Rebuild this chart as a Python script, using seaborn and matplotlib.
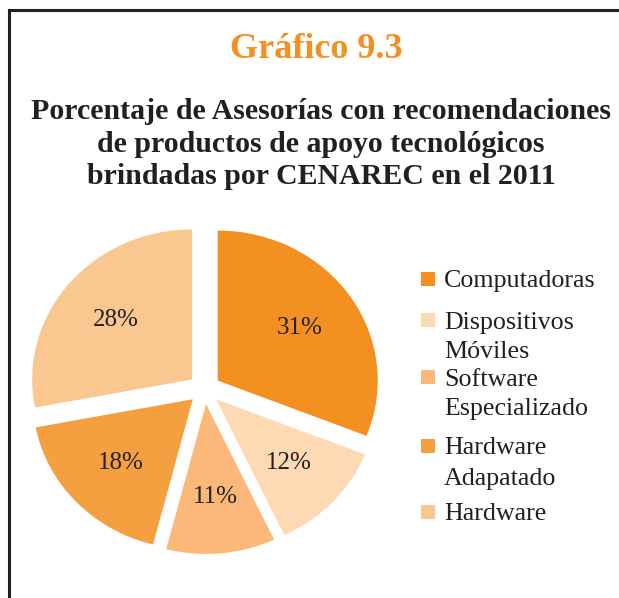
import matplotlib
matplotlib.use("Agg")
import matplotlib.pyplot as plt
import seaborn as sns
from matplotlib.lines import Line2D
from matplotlib.patches import Rectangle

# data
categorias = ["Computadoras", "Dispositivos\nMóviles", "Software\nEspecializado",
              "Hardware\nAdapatado", "Hardware"]
porcentajes = [31, 12, 11, 18, 28]
colores = ["#F39020", "#FDD9B4", "#FBB878", "#F5A040", "#FAC791"]

titulo = "Gráfico 9.3"
subtitulo = ("Porcentaje de Asesorías con recomendaciones\n"
             "de productos de apoyo tecnológicos\n"
             "brindadas por CENAREC en el 2011")

sns.set_style("white")
plt.rcParams['font.family'] = ['Liberation Serif', 'DejaVu Serif']
texto = "#231F20"
W, H = 619, 598

fig = plt.figure(figsize=(6.19, 5.98), dpi=100)
fig.patch.set_facecolor("white")

# frame (only top and left edges are visible)
fig.add_artist(Line2D([9/W, 9/W], [0, 1 - 10/H], transform=fig.transFigure,
                      color=texto, lw=2.2, solid_capstyle="projecting"))
fig.add_artist(Line2D([9/W, 1], [1 - 10/H, 1 - 10/H], transform=fig.transFigure,
                      color=texto, lw=2.2, solid_capstyle="projecting"))

fig.text(316/W, 1 - 49/H, titulo, ha="center", va="center",
         fontsize=26, fontweight="bold", color="#F39020")
fig.text(321/W, 1 - 144/H, subtitulo, ha="center", va="center",
         fontsize=21.5, fontweight="bold", color=texto, linespacing=1.26)

# pie is slightly wider than tall in the original
ax = fig.add_axes([12.5/W, 29/H, 384/W, 360/H])
wedges, _, autotexts = ax.pie(porcentajes, colors=colores, startangle=90, counterclock=False,
                              explode=[0.1] * len(porcentajes), radius=1,
                              autopct=lambda p: f"{p:.0f}%", pctdistance=0.62,
                              wedgeprops=dict(linewidth=0),
                              textprops=dict(fontsize=18, color=texto))
ax.set_xlim(-1.2, 1.2)
ax.set_ylim(-1.2, 1.2)
ax.set_aspect("auto")
ax.axis("off")

# legend drawn by hand so the swatch sits on the first line of each label
leyenda_y = [279, 320, 377, 446, 512]
paso_linea = 30
for etiqueta, color, y0 in zip(categorias, colores, leyenda_y):
    fig.add_artist(Rectangle((421/W, 1 - (y0 + 7)/H), 14/W, 14/H,
                             transform=fig.transFigure, color=color, lw=0))
    for k, linea in enumerate(etiqueta.split("\n")):
        fig.text(444/W, 1 - (y0 + k*paso_linea)/H, linea, ha="left", va="center_baseline",
                 fontsize=18.7, color=texto)

fig.savefig("out.png", dpi=100, facecolor="white")
